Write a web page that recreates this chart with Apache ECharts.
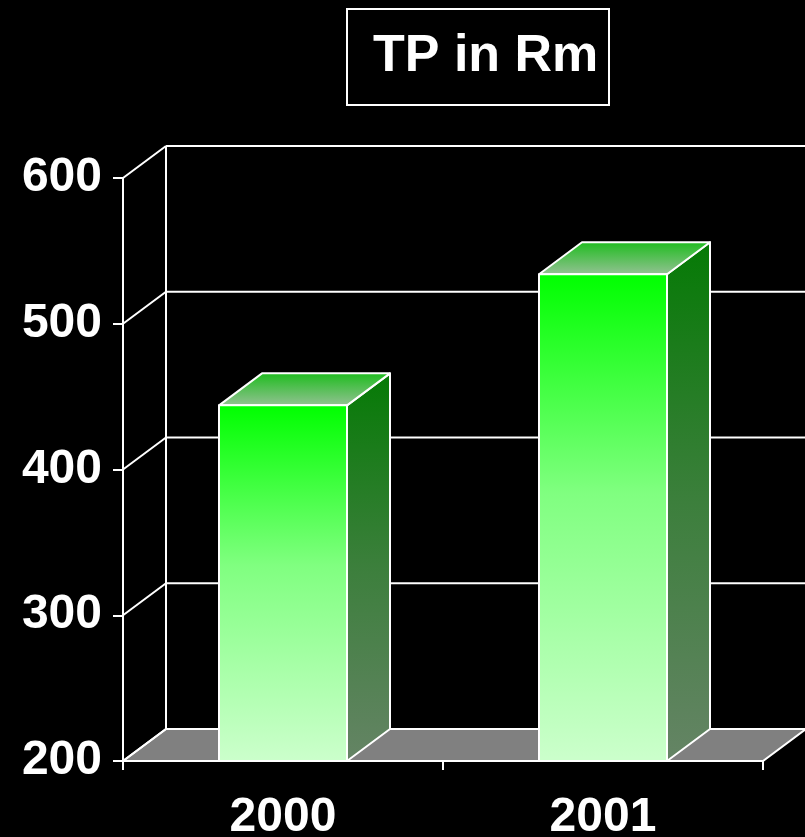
<!DOCTYPE html>
<html>
<head>
<meta charset="utf-8">
<script src="https://cdn.jsdelivr.net/npm/echarts@6/dist/echarts.min.js"></script>
<style>
  html, body { margin: 0; padding: 0; background: #000; }
  #chart { width: 805px; height: 837px; }
</style>
</head>
<body>
<div id="chart"></div>
<script>
var years = ['2000', '2001'];
var tpValues = [444, 534];
var yTicks = [200, 300, 400, 500, 600];

// depth of the fake 3d box
var DX = 43, DY = -32;
var FONT = 'Liberation Sans, Arial, sans-serif';

var chart = echarts.init(document.getElementById('chart'));

function floorItem(params, api) {
	var cs = params.coordSys;
	var y = api.coord([0, yTicks[0]])[1];
	var x0 = cs.x, x1 = cs.x + cs.width;
	return {
		type : 'polygon',
		shape : { points : [ [x0, y], [x1, y], [x1 + DX, y + DY], [x0 + DX, y + DY] ] },
		style : { fill : '#808080', stroke : '#ffffff', lineWidth : 2 }
	};
}

function wallItem(params, api) {
	var cs = params.coordSys;
	var y = api.coord([0, api.value(0)])[1];
	var x0 = cs.x;
	var children = [ {
		type : 'line',
		shape : { x1 : x0, y1 : y, x2 : x0 + DX, y2 : y + DY },
		style : { stroke : '#ffffff', lineWidth : 2 }
	}, {
		type : 'line',
		shape : { x1 : x0 + DX, y1 : y + DY, x2 : cs.x + cs.width + DX, y2 : y + DY },
		style : { stroke : '#ffffff', lineWidth : 2 }
	} ];
	if (params.dataIndex == 0) {
		var yTop = api.coord([0, yTicks[yTicks.length - 1]])[1];
		children.push({
			type : 'line',
			shape : { x1 : x0 + DX, y1 : y + DY, x2 : x0 + DX, y2 : yTop + DY },
			style : { stroke : '#ffffff', lineWidth : 2 }
		});
	}
	return { type : 'group', children : children };
}

function barItem(params, api) {
	var top = api.coord([api.value(0), api.value(1)]);
	var base = api.coord([api.value(0), yTicks[0]]);
	var w = api.size([1, 0])[0] * 0.4;
	var l = top[0] - w / 2, r = top[0] + w / 2;
	var edge = { stroke : '#ffffff', lineWidth : 2, lineJoin : 'round' };
	return {
		type : 'group',
		children : [ {
			type : 'polygon',
			shape : { points : [ [r, top[1]], [r + DX, top[1] + DY], [r + DX, base[1] + DY], [r, base[1]] ] },
			style : Object.assign({
				fill : new echarts.graphic.LinearGradient(0, 0, 0, 1, [
					{ offset : 0, color : '#057a05' },
					{ offset : 0.5, color : '#3c7f3c' },
					{ offset : 1, color : '#658465' } ])
			}, edge)
		}, {
			type : 'polygon',
			shape : { points : [ [l, top[1]], [r, top[1]], [r + DX, top[1] + DY], [l + DX, top[1] + DY] ] },
			style : Object.assign({
				fill : new echarts.graphic.LinearGradient(0, 0, 0, 1, [
					{ offset : 0, color : '#1cbc1c' },
					{ offset : 1, color : '#95c295' } ])
			}, edge)
		}, {
			type : 'rect',
			shape : { x : l, y : top[1], width : w, height : base[1] - top[1] },
			style : Object.assign({
				fill : new echarts.graphic.LinearGradient(0, 0, 0, 1, [
					{ offset : 0, color : '#00ff00' },
					{ offset : 0.45, color : '#80ff80' },
					{ offset : 1, color : '#ccffcc' } ])
			}, edge)
		} ]
	};
}

chart.setOption({
	backgroundColor : '#000000',
	animation : false,
	title : {
		text : 'TP in Rm',
		left : 347,
		top : 9,
		padding : [ 22, 11, 22, 26 ],
		borderColor : '#ffffff',
		borderWidth : 2,
		textStyle : { color : '#ffffff', fontSize : 52, fontWeight : 'bold', fontFamily : FONT }
	},
	grid : { left : 123, right : 42, top : 178, bottom : 76, outerBoundsMode : 'none' },
	xAxis : {
		type : 'category',
		data : years,
		axisLine : { lineStyle : { color : '#ffffff', width : 2 } },
		axisTick : { show : true, length : 9, lineStyle : { color : '#ffffff', width : 2 } },
		axisLabel : { color : '#ffffff', fontSize : 48, fontWeight : 'bold', fontFamily : FONT, margin : 33 },
		z : 10
	},
	yAxis : {
		type : 'value',
		min : 200,
		max : 600,
		interval : 100,
		axisLine : { show : true, lineStyle : { color : '#ffffff', width : 2 } },
		axisTick : { show : true, length : 10, lineStyle : { color : '#ffffff', width : 2 } },
		axisLabel : { color : '#ffffff', fontSize : 48, fontWeight : 'bold', fontFamily : FONT, margin : 21 },
		splitLine : { show : false }
	},
	series : [ {
		name : 'floor',
		type : 'custom',
		renderItem : floorItem,
		data : [ [0] ],
		silent : true,
		z : 1
	}, {
		name : 'wall',
		type : 'custom',
		renderItem : wallItem,
		data : yTicks.map(function(v) { return [v]; }),
		silent : true,
		z : 2
	}, {
		name : 'TP',
		type : 'custom',
		renderItem : barItem,
		data : years.map(function(y, i) { return [i, tpValues[i]]; }),
		encode : { x : 0, y : 1 },
		z : 3
	} ]
});
</script>
</body>
</html>
